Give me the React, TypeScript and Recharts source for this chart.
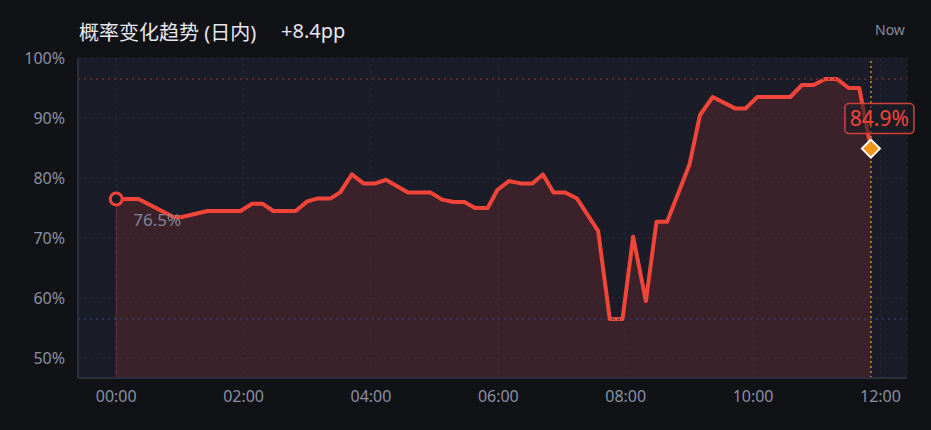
import {
  AreaChart, Area, XAxis, YAxis, CartesianGrid,
  ReferenceLine, ReferenceDot,
} from 'recharts'

// minutes after 00:00 (turning points)
const minutes = [
  0, 21, 54, 62, 86, 117, 128, 138, 148, 169, 180, 190, 202, 211, 222, 233,
  244, 254, 275, 296, 307, 318, 328, 338, 350, 359, 370, 381, 392, 402, 412,
  423, 434, 454, 465, 477, 487, 499, 509, 519, 540, 550, 562, 583, 593, 604,
  635, 646, 657, 668, 679, 690, 700, 711,
]

// probability, %
const probability = [
  76.5, 76.5, 73.5, 73.5, 74.5, 74.5, 75.7, 75.7, 74.5, 74.5, 76.1, 76.6, 76.6, 77.6, 80.6, 79.1,
  79.1, 79.7, 77.6, 77.6, 76.4, 76.0, 76.0, 75.0, 75.0, 78.0, 79.5, 79.1, 79.1, 80.6, 77.6,
  77.6, 76.6, 71.2, 56.5, 56.5, 70.2, 59.5, 72.7, 72.7, 82.2, 90.5, 93.5, 91.6, 91.6, 93.5,
  93.5, 95.5, 95.5, 96.5, 96.5, 95.0, 95.0, 84.9,
]

const xTicks = [0, 120, 240, 360, 480, 600, 720]
const yTicks = [50, 60, 70, 80, 90, 100]
const yDomain = [46.67, 100]

const RED = '#f2453a'
const FONT = '"Noto Sans", "Noto Sans CJK SC", sans-serif'

const data = minutes.map((t, i) => ({ t, v: probability[i] }))
const first = data[0]
const last = data[data.length - 1]
const maxV = Math.max(...probability)
const minV = Math.min(...probability)
const change = (last.v - first.v).toFixed(1)

const fmtTime = (m: number) => `${String(Math.floor(m / 60)).padStart(2, '0')}:00`

function StartMarker(props: any) {
  const { cx, cy } = props
  return (
    <g>
      <circle cx={cx} cy={cy} r={6} fill="#1a1c27" stroke={RED} strokeWidth={3} />
      <text x={cx + 17} y={cy + 27} fill="#80859a" fontSize={17} fontFamily={FONT}>
        {first.v.toFixed(1)}%
      </text>
    </g>
  )
}

function EndMarker(props: any) {
  const { cx, cy } = props
  const d = 9
  return (
    <g>
      <rect x={cx - 26} y={cy - 45} width={69} height={30} rx={4}
        fill="#1b1c27" fillOpacity={0.6} stroke="#d3403a" strokeWidth={1.5} />
      <text x={cx + 8.5} y={cy - 23} textAnchor="middle" fill={RED} fontSize={21} fontFamily={FONT}>
        {last.v.toFixed(1)}%
      </text>
      <polygon
        points={`${cx},${cy - d} ${cx + d},${cy} ${cx},${cy + d} ${cx - d},${cy}`}
        fill="#f39313" stroke="#ffffff" strokeWidth={2}
      />
    </g>
  )
}

export default function App() {
  return (
    <div style={{
      position: 'absolute', left: 0, top: 0, width: 931, height: 430,
      background: '#111216', fontFamily: FONT, overflow: 'hidden',
    }}>
      <div style={{ position: 'absolute', left: 79, top: 17, fontSize: 20, color: '#e6e7ec', whiteSpace: 'nowrap' }}>
        概率变化趋势 (日内)
      </div>
      <div style={{ position: 'absolute', left: 281, top: 17, fontSize: 20, color: '#e6e7ec' }}>
        +{change}pp
      </div>
      <div style={{ position: 'absolute', left: 875, top: 20, fontSize: 14, color: '#868b9d' }}>
        Now
      </div>
      <AreaChart
        width={931}
        height={430}
        data={data}
        margin={{ top: 58, right: 24, left: 8, bottom: 22 }}
      >
        <CartesianGrid fill="#1a1c27" stroke="#262936" strokeDasharray="3 3" />
        <XAxis
          dataKey="t"
          type="number"
          domain={[-36, 745]}
          ticks={xTicks}
          tickFormatter={fmtTime}
          tick={{ fontSize: 16, fill: '#8a8fa2', fontFamily: FONT }}
          tickLine={false}
          tickSize={0}
          tickMargin={13}
          axisLine={{ stroke: '#2a2d3b', strokeWidth: 2 }}
          height={30}
          allowDataOverflow
        />
        <YAxis
          type="number"
          domain={yDomain}
          ticks={yTicks}
          tickFormatter={(v) => `${v}%`}
          tick={{ fontSize: 16, fill: '#8a8fa2', fontFamily: FONT }}
          tickLine={false}
          tickSize={0}
          tickMargin={13}
          axisLine={{ stroke: '#2a2d3b', strokeWidth: 2 }}
          width={70}
          allowDataOverflow
        />
        <ReferenceLine y={maxV} stroke="#6e3035" strokeDasharray="2 4" strokeWidth={1.5} />
        <ReferenceLine y={minV} stroke="#343c68" strokeDasharray="2 4" strokeWidth={1.5} />
        <ReferenceLine
          segment={[{ x: first.t, y: first.v }, { x: first.t, y: yDomain[0] }]}
          stroke={RED}
          strokeOpacity={0.35}
          strokeWidth={1}
        />
        <ReferenceLine x={last.t} stroke="#d98a1c" strokeDasharray="2 3" strokeWidth={1.5} />
        <Area
          type="linear"
          dataKey="v"
          stroke={RED}
          strokeWidth={4}
          strokeLinejoin="round"
          fill={RED}
          fillOpacity={0.15}
          dot={false}
          activeDot={false}
          isAnimationActive={false}
        />
        <ReferenceDot x={first.t} y={first.v} shape={StartMarker} />
        <ReferenceDot x={last.t} y={last.v} shape={EndMarker} />
      </AreaChart>
    </div>
  )
}
